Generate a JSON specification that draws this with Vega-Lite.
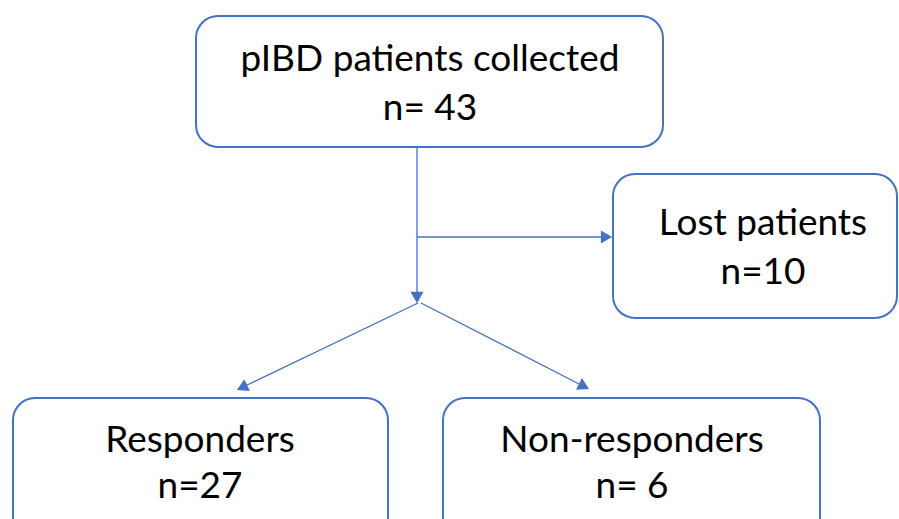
{
  "$schema": "https://vega.github.io/schema/vega-lite/v6.json",
  "width": 899,
  "height": 519,
  "autosize": {"type": "fit", "contains": "padding"},
  "padding": 0,
  "background": "white",
  "config": {"view": {"stroke": null}},
  "datasets": {
    "boxes": [
      {"node": "pIBD patients collected", "x1": 196, "x2": 663, "y1": 16, "y2": 147},
      {"node": "Lost patients", "x1": 613, "x2": 897, "y1": 174, "y2": 318},
      {"node": "Responders", "x1": 13, "x2": 388, "y1": 398, "y2": 540},
      {"node": "Non-responders", "x1": 443, "x2": 820, "y1": 398, "y2": 540}
    ],
    "labels": [
      {"text": "pIBD patients collected", "x": 430, "y": 71},
      {"text": "n= 43", "x": 430, "y": 120},
      {"text": "Lost patients", "x": 763, "y": 235},
      {"text": "n=10", "x": 763, "y": 284},
      {"text": "Responders", "x": 200, "y": 452},
      {"text": "n=27", "x": 200, "y": 498},
      {"text": "Non-responders", "x": 632, "y": 452},
      {"text": "n= 6", "x": 632, "y": 498}
    ],
    "edges": [
      {"edge": "collected-down", "x": 417, "y": 147, "x2": 417, "y2": 297},
      {"edge": "to-lost", "x": 417, "y": 237, "x2": 607, "y2": 237},
      {"edge": "to-responders", "x": 418, "y": 303, "x2": 242, "y2": 387.5},
      {"edge": "to-non-responders", "x": 421, "y": 303, "x2": 584, "y2": 386.5}
    ],
    "heads": [
      {"edge": "collected-down", "x": 417, "y": 297.5, "angle": 180},
      {"edge": "to-lost", "x": 606.5, "y": 237, "angle": 90},
      {"edge": "to-responders", "x": 242, "y": 387.6, "angle": 244.3},
      {"edge": "to-non-responders", "x": 584, "y": 386.4, "angle": 117.1}
    ]
  },
  "layer": [
    {
      "data": {"name": "boxes"},
      "mark": {"type": "rect", "cornerRadius": 22, "fill": "white", "stroke": "#4472C4", "strokeWidth": 2, "clip": true},
      "encoding": {
        "x": {"field": "x1", "type": "quantitative", "scale": {"domain": [0, 899], "nice": false, "zero": false}, "axis": null},
        "x2": {"field": "x2"},
        "y": {"field": "y1", "type": "quantitative", "scale": {"domain": [0, 519], "nice": false, "zero": false, "reverse": true}, "axis": null},
        "y2": {"field": "y2"}
      }
    },
    {
      "data": {"name": "edges"},
      "mark": {"type": "rule", "color": "#4472C4", "strokeWidth": 1.3},
      "encoding": {
        "x": {"field": "x", "type": "quantitative", "scale": {"domain": [0, 899], "nice": false, "zero": false}, "axis": null},
        "x2": {"field": "x2"},
        "y": {"field": "y", "type": "quantitative", "scale": {"domain": [0, 519], "nice": false, "zero": false, "reverse": true}, "axis": null},
        "y2": {"field": "y2"}
      }
    },
    {
      "data": {"name": "heads"},
      "mark": {"type": "point", "shape": "triangle-up", "filled": true, "color": "#4472C4", "size": 170, "opacity": 1},
      "encoding": {
        "x": {"field": "x", "type": "quantitative", "scale": {"domain": [0, 899], "nice": false, "zero": false}, "axis": null},
        "y": {"field": "y", "type": "quantitative", "scale": {"domain": [0, 519], "nice": false, "zero": false, "reverse": true}, "axis": null},
        "angle": {"field": "angle", "type": "quantitative", "scale": null}
      }
    },
    {
      "data": {"name": "labels"},
      "mark": {"type": "text", "font": "Lato", "fontSize": 37, "color": "black", "align": "center", "baseline": "alphabetic"},
      "encoding": {
        "x": {"field": "x", "type": "quantitative", "scale": {"domain": [0, 899], "nice": false, "zero": false}, "axis": null},
        "y": {"field": "y", "type": "quantitative", "scale": {"domain": [0, 519], "nice": false, "zero": false, "reverse": true}, "axis": null},
        "text": {"field": "text", "type": "nominal"}
      }
    }
  ]
}
